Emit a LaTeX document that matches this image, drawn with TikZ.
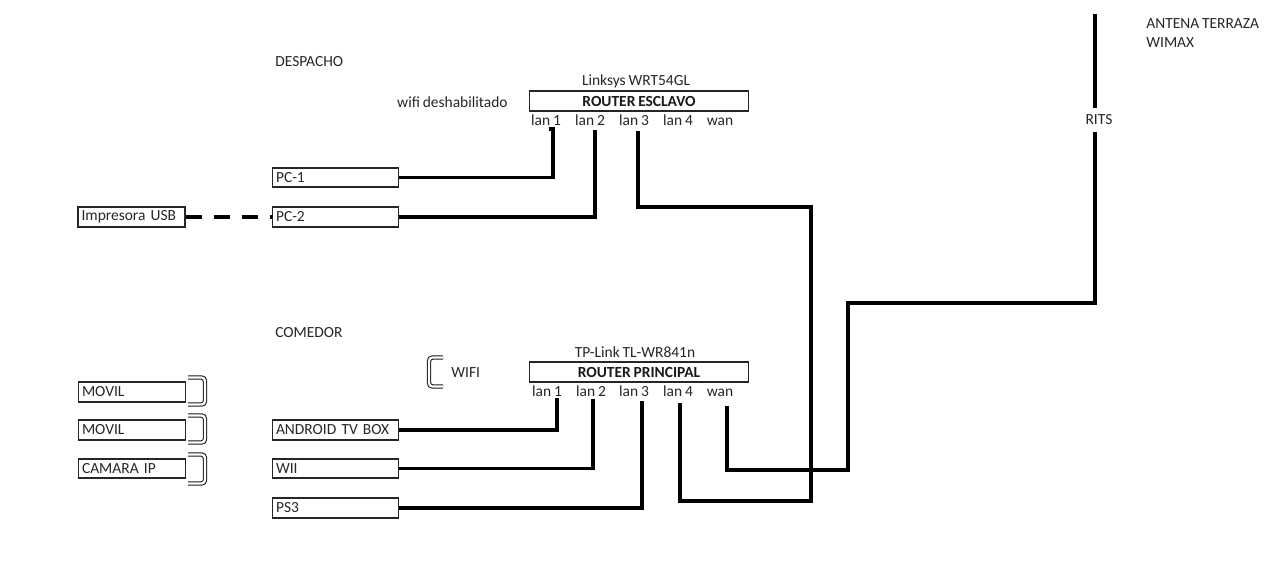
\documentclass[tikz,border=0pt]{standalone}
\usepackage{fontspec}
\setmainfont{Carlito}[WordSpace=0.8]
\usetikzlibrary{calc}
\begin{document}
\begin{tikzpicture}[x=0.02cm,y=-0.02cm,
  txt/.style={text=black!85, font=\fontsize{8.8}{10}\selectfont, inner sep=0pt},
  port/.style={txt, anchor=base},
  box/.style={draw=black!85, line width=0.9pt, minimum height=0.39cm, inner xsep=2pt, inner ysep=0pt,
    align=left, text=black!85, font=\fontsize{8.8}{10}\selectfont},
  devbox/.style={box, text width=2.52cm-4pt},
  smallbox/.style={box, text width=2.14cm-4pt},
  router/.style={draw=black!85, line width=0.9pt, minimum width=4.38cm, minimum height=0.39cm, inner sep=0pt,
    text=black!90, font=\fontsize{8.8}{10}\selectfont\bfseries},
  wire/.style={line width=2.2pt, black},
  brk/.style={draw=black!90, line width=0.6pt, double, double distance=1.3pt, rounded corners=2pt}]
\useasboundingbox (0,0) rectangle (1280,580);

% labels
\node[txt, anchor=west] (despacho) at (275,62) {DESPACHO};
\node[txt, anchor=west] (comedor) at (275,333) {COMEDOR};
\node[txt, anchor=west] (antena) at (1146,24) {ANTENA TERRAZA};
\node[txt, anchor=west] (wimax) at (1146,43) {WIMAX};
\node[txt] (rits) at (1099,120) {RITS};
\node[txt, anchor=east] (wifides) at (508,102) {wifi deshabilitado};
\node[txt, anchor=west] (wifi) at (451,373) {WIFI};

% routers
\node[txt] (linksys) at (636,81) {Linksys WRT54GL};
\node[router] (re) at (639,101) {ROUTER ESCLAVO};
\node[port] (e1) at (546,125.5) {lan 1};
\node[port] (e2) at (590,125.5) {lan 2};
\node[port] (e3) at (634,125.5) {lan 3};
\node[port] (e4) at (678,125.5) {lan 4};
\node[port] (ew) at (720,125.5) {wan};

\node[txt] (tplink) at (635,352) {TP-Link TL-WR841n};
\node[router] (rp) at (639,372) {ROUTER PRINCIPAL};
\node[port] (p1) at (547,396.5) {lan 1};
\node[port] (p2) at (591,396.5) {lan 2};
\node[port] (p3) at (634,396.5) {lan 3};
\node[port] (p4) at (678,396.5) {lan 4};
\node[port] (pw) at (720,396.5) {wan};

% devices
\node[devbox] (pc1) at (335.5,177.5) {PC-1};
\node[devbox] (pc2) at (335.5,217) {PC-2};
\node[smallbox] (imp) at (131.5,217) {Impresora USB};
\node[smallbox] (m1) at (132,392) {MOVIL};
\node[smallbox] (m2) at (132,430) {MOVIL};
\node[smallbox] (cam) at (132,468.5) {CAMARA IP};
\node[devbox] (atv) at (335.5,430) {ANDROID TV BOX};
\node[devbox] (wii) at (335.5,468.5) {WII};
\node[devbox] (ps3) at (335.5,508) {PS3};

% wires despacho
\draw[wire] (pc1.east) -| ($(e1.base)+(7,3.5)$) -- ++(-4,0);
\draw[wire] (pc2.east) -| ($(e2.base)+(5,4.5)$);
\draw[line width=2.2pt, dash pattern=on 0.32cm off 0.24cm] (imp.east) -- (pc2.west);
% slave router to main router
\draw[wire] ($(e3.base)+(4,5.5)$) |- (811,207) -- (811,501) -| ($(p4.base)+(2,6.5)$);
% main router to devices
\draw[wire] (atv.east) -| ($(p1.base)+(10,1.5)$);
\draw[wire] (wii.east) -| ($(p2.base)+(2,2.5)$);
\draw[wire] (ps3.east) -| ($(p3.base)+(8,4.5)$);
% wan to RITS
\draw[wire] ($(pw.base)+(7,9.5)$) |- (848,470) |- (1095,303) -- ($(rits.south)+(-4,7)$);
\coordinate (anttop) at (1095,14);
\draw[wire] ($(rits.north)+(-4,-7)$) -- (anttop);

% wireless brackets
\draw[brk] (188,377.5) -- (205,377.5) -- (205,404.5) -- (188,404.5);
\draw[brk] (188,415.5) -- (205,415.5) -- (205,442.5) -- (188,442.5);
\draw[brk] (188,454.5) -- (205,454.5) -- (205,483.5) -- (188,483.5);
\draw[brk] (443,357.5) -- (429,357.5) -- (429,386.5) -- (443,386.5);
\end{tikzpicture}
\end{document}
